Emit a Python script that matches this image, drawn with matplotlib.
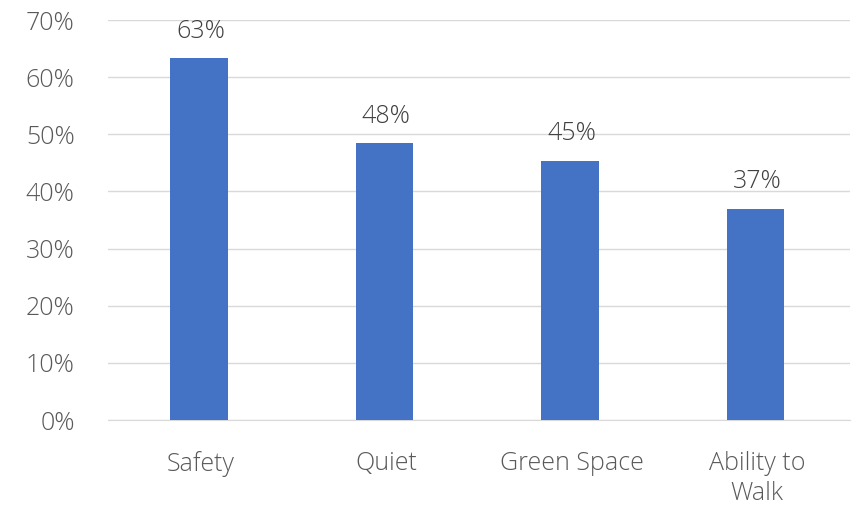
import matplotlib.pyplot as plt
import numpy as np

categories = ['Safety', 'Quiet', 'Green Space', 'Ability to\nWalk']
values = [63.3, 48.4, 45.4, 37.0]
labels = ['63%', '48%', '45%', '37%']

plt.rcParams['font.family'] = ['Open Sans', 'DejaVu Sans']
plt.rcParams['font.weight'] = 'light'

fig = plt.figure(figsize=(8.56, 5.13), dpi=100)
ax = fig.add_axes([108 / 856, 1 - 420 / 513, 742 / 856, 400 / 513])

x = np.arange(len(categories))
ax.bar(x - 0.01, values, width=0.31, color='#4472C4', zorder=3)
for xi, v, lab in zip(x, values, labels):
    ax.text(xi, v + 2.5, lab, ha='center', va='bottom', fontsize=18, color='#404040')

ax.set_ylim(0, 70)
ax.set_xlim(-0.5, 3.5)
ax.set_yticks(range(0, 71, 10))
ax.set_yticklabels([f'{t}%' for t in range(0, 71, 10)])
ax.set_xticks(x)
ax.set_xticklabels(categories, linespacing=1.3)
ax.grid(axis='y', color='#D9D9D9', linewidth=1, zorder=0)
for s in ['top', 'right', 'left']:
    ax.spines[s].set_visible(False)
ax.spines['bottom'].set_color('#D9D9D9')
ax.tick_params(length=0, labelsize=18, colors='#595959')
ax.tick_params(axis='x', pad=22)
ax.tick_params(axis='y', pad=24)

fig.savefig('out.png', dpi=100)
